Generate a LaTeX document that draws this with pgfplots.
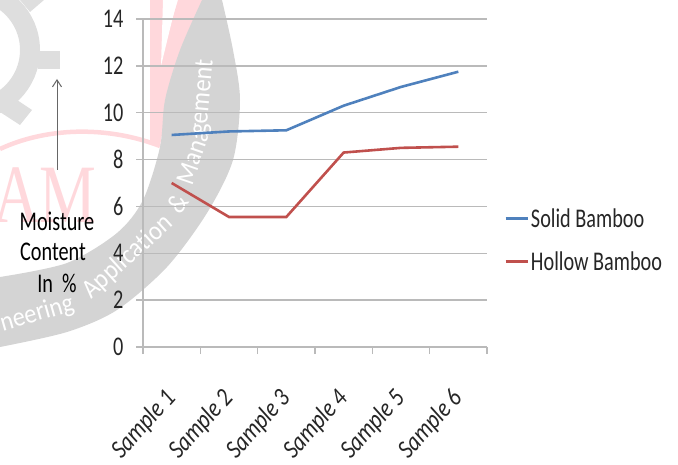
\documentclass[border=0pt]{standalone}
\usepackage{fontspec}
\setmainfont[FakeStretch=0.75]{Carlito}
\newfontfamily\labelfont[FakeStretch=0.85]{Carlito}
\newfontfamily\ringfont[FakeStretch=0.9]{Carlito}
\newfontfamily\serifmark{Liberation Serif}
\usepackage{pgfplots}
\pgfplotsset{compat=1.18}
\usetikzlibrary{arrows.meta}
\definecolor{solidblue}{RGB}{79,129,189}
\definecolor{hollowred}{RGB}{192,80,77}
\definecolor{ruleGray}{RGB}{186,186,186}
\definecolor{ringGray}{RGB}{212,212,212}
\definecolor{gearGray}{RGB}{222,222,222}
\definecolor{markPink}{RGB}{255,216,220}
\definecolor{inkText}{RGB}{38,38,38}
\pgfplotstableread{
x solid hollow
1 9.05 7.0
2 9.2 5.55
3 9.25 5.55
4 10.3 8.3
5 11.1 8.5
6 11.75 8.55
}\moisture
\begin{document}
\begin{tikzpicture}[x=1pt,y=1pt]
\useasboundingbox (0,0) rectangle (678,464);
\begin{scope}
\clip (0,0) rectangle (678,464);
\begin{scope}[shift={(0,464)},y=-1pt]
% journal emblem behind the plot: gear, swoosh, letters
\draw[gearGray,line width=20pt] (-30,50) circle[radius=60];
\fill[gearGray] (38,51) rectangle (60,69);
\fill[gearGray] (30,12) -- (44,0) -- (20,0) -- cycle;
\fill[gearGray] (17,100) -- (32,110) -- (20,125) -- (0,112) -- cycle;
\fill[markPink] (150,0) -- (164,0) -- (164,122) -- (160,146) -- (150,143) -- cycle;
\fill[markPink] (178,0) -- (205,0) -- (165,100) -- (165,135) -- (152,140) -- (160,60) -- cycle;
\fill[white] (163,0) -- (177,0) -- (161,66) -- cycle;
\draw[markPink,line width=4.5pt] (0,149) .. controls (45,128) and (105,125) .. (160,146);
\node[text=markPink,font=\serifmark\fontsize{83}{83}\selectfont,anchor=base,inner sep=0pt,xscale=.77] at (45,223) {AM};
% grey ring with the white lettering
\fill[ringGray] plot[smooth] coordinates {(222,0) (233,50) (240,100) (233,160) (207,213) (167,267) (117,310) (67,332) (0,347)}
  -- plot[smooth] coordinates {(0,277) (67,263) (117,233) (143,200) (160,147) (165,100) (180,50) (202,0)} -- cycle;
\begin{scope}[every node/.style={font=\ringfont\fontsize{27}{27}\selectfont,text=white,inner sep=0pt}]
\node[rotate=16] at (37,314) {neering};
\node[rotate=42] at (128,257) {Application};
\node[rotate=55] at (178,203) {\&};
\node[rotate=71,anchor=west] at (184,184) {Mana};
\node[rotate=85,anchor=west] at (200,135) {gement};
\end{scope}
% axis title and arrow on the left
\draw[gray!80!black,line width=1pt,-{Straight Barb[length=7pt,width=9pt]}] (57,170) -- (57,79);
\node[text=black,font=\fontsize{27}{27}\selectfont] at (57,221) {Moisture};
\node[text=black,font=\fontsize{27}{27}\selectfont] at (53,252) {Content};
\node[text=black,font=\fontsize{27}{27}\selectfont] at (57,283) {In\ \ \%};
\end{scope}
\end{scope}
\begin{axis}[
  at={(143pt,117pt)},anchor=south west,
  scale only axis,width=344pt,height=328pt,
  xmin=0.5,xmax=6.5,ymin=0,ymax=14,
  axis line style={ruleGray,line width=1.5pt},
  axis x line*=bottom,axis y line*=left,
  xtick={0.5,1.5,2.5,3.5,4.5,5.5,6.5},xticklabels={},
  extra x ticks={1,2,3,4,5,6},
  extra x tick labels={Sample 1,Sample 2,Sample 3,Sample 4,Sample 5,Sample 6},
  extra x tick style={major tick length=0pt,
    tick label style={rotate=48,anchor=north east,inner sep=0pt,xshift=-35pt,yshift=-20pt,
      font=\labelfont\itshape\fontsize{26}{26}\selectfont,text=inkText}},
  ytick={0,2,...,14},
  ymajorgrids,
  grid style={ruleGray,line width=1.5pt},
  tick style={ruleGray,line width=1.5pt},
  tick align=outside,
  major tick length=7pt,
  y tick label style={font=\fontsize{27}{27}\selectfont,text=inkText,xshift=-9pt},
  /pgf/number format/assume math mode=true,
  clip=false,
  legend style={at={(1.05,0.326)},anchor=west,draw=none,fill=none,
    font=\fontsize{27}{27}\selectfont,text=inkText,row sep=19pt,inner sep=0pt},
  legend cell align=left,
  legend image code/.code={\draw[#1,line width=2.6pt] (0,0) -- (22pt,0);},
]
\addplot[solidblue,line width=2.6pt] table[x=x,y=solid] {\moisture};
\addlegendentry{Solid Bamboo}
\addplot[hollowred,line width=2.6pt] table[x=x,y=hollow] {\moisture};
\addlegendentry{Hollow Bamboo}
\end{axis}
\end{tikzpicture}
\end{document}
